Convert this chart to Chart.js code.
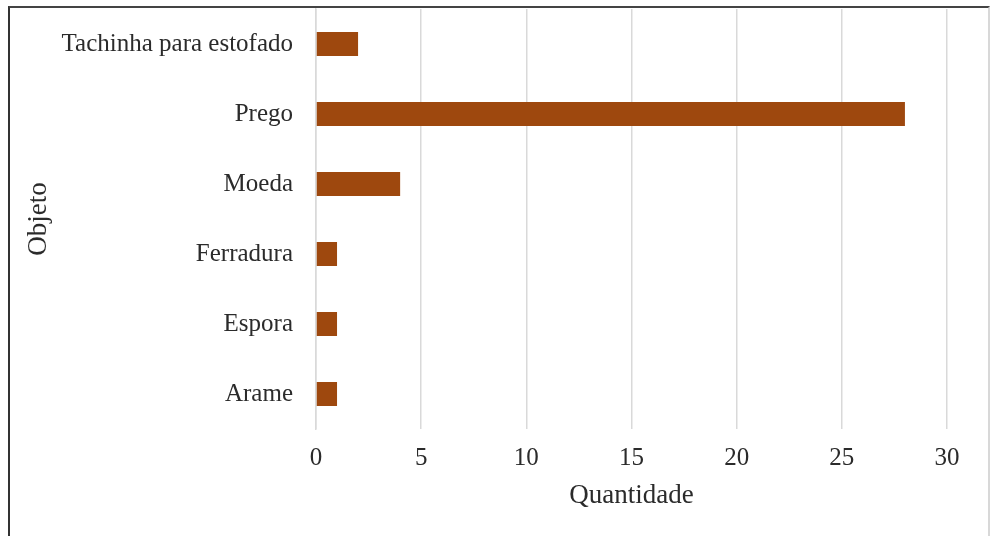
<!DOCTYPE html>
<html>
<head>
<meta charset="utf-8">
<script src="https://cdn.jsdelivr.net/npm/chart.js@4.4.1/dist/chart.umd.min.js"></script>
<style>
  html, body { margin: 0; padding: 0; background: #fff; }
  body { width: 992px; height: 536px; position: relative; overflow: hidden; }
  #frame { position: absolute; left: 8px; top: 6px; width: 978px; height: 560px;
           border-left: 2px solid #333; border-top: 2px solid #444; border-right: 2px solid #d8d8d8; }
  #wrap { position: absolute; left: 0; top: 0; width: 992px; height: 536px; }
</style>
</head>
<body>
<div id="frame"></div>
<div id="wrap"><canvas id="c"></canvas></div>
<script>
const categories = ["Tachinha para estofado", "Prego", "Moeda", "Ferradura", "Espora", "Arame"];
const quantidade = [2, 28, 4, 1, 1, 1];
const xTicks = [0, 5, 10, 15, 20, 25, 30];

const serif = "'Liberation Serif', 'Times New Roman', serif";
const textColor = '#2b2b2b';

new Chart(document.getElementById('c'), {
  type: 'bar',
  data: {
    labels: categories,
    datasets: [{
      label: 'Quantidade',
      data: quantidade,
      backgroundColor: '#9E480E',
      borderWidth: 0,
      categoryPercentage: 0.343,
      barPercentage: 1.0
    }]
  },
  options: {
    indexAxis: 'y',
    responsive: true,
    maintainAspectRatio: false,
    animation: false,
    layout: { padding: { left: 0, top: 9, right: 45, bottom: 24 } },
    plugins: { legend: { display: false }, tooltip: { enabled: false } },
    scales: {
      x: {
        min: 0, max: 30,
        afterBuildTicks: (s) => { s.ticks = xTicks.map(v => ({ value: v })); },
        afterFit: (s) => { s.height = 83; s.paddingLeft = 0; s.paddingRight = 0; },
        grid: { color: '#d9d9d9', lineWidth: 1.5, drawTicks: false },
        border: { display: false },
        ticks: { color: textColor, font: { family: serif, size: 25 }, padding: 14 },
        title: { display: true, text: 'Quantidade', color: textColor,
                 font: { family: serif, size: 27 }, padding: { top: 7, bottom: 0 } }
      },
      y: {
        afterFit: (s) => { s.width = 316; s.paddingTop = 0; s.paddingBottom = 0; },
        grid: { display: false, drawTicks: false },
        border: { display: true, color: '#d9d9d9', width: 1.5 },
        ticks: { color: textColor, font: { family: serif, size: 25 }, padding: 23 },
        title: { display: true, text: 'Objeto', color: textColor,
                 font: { family: serif, size: 27 }, padding: { top: 23, bottom: 0 } }
      }
    }
  }
});
</script>
</body>
</html>
